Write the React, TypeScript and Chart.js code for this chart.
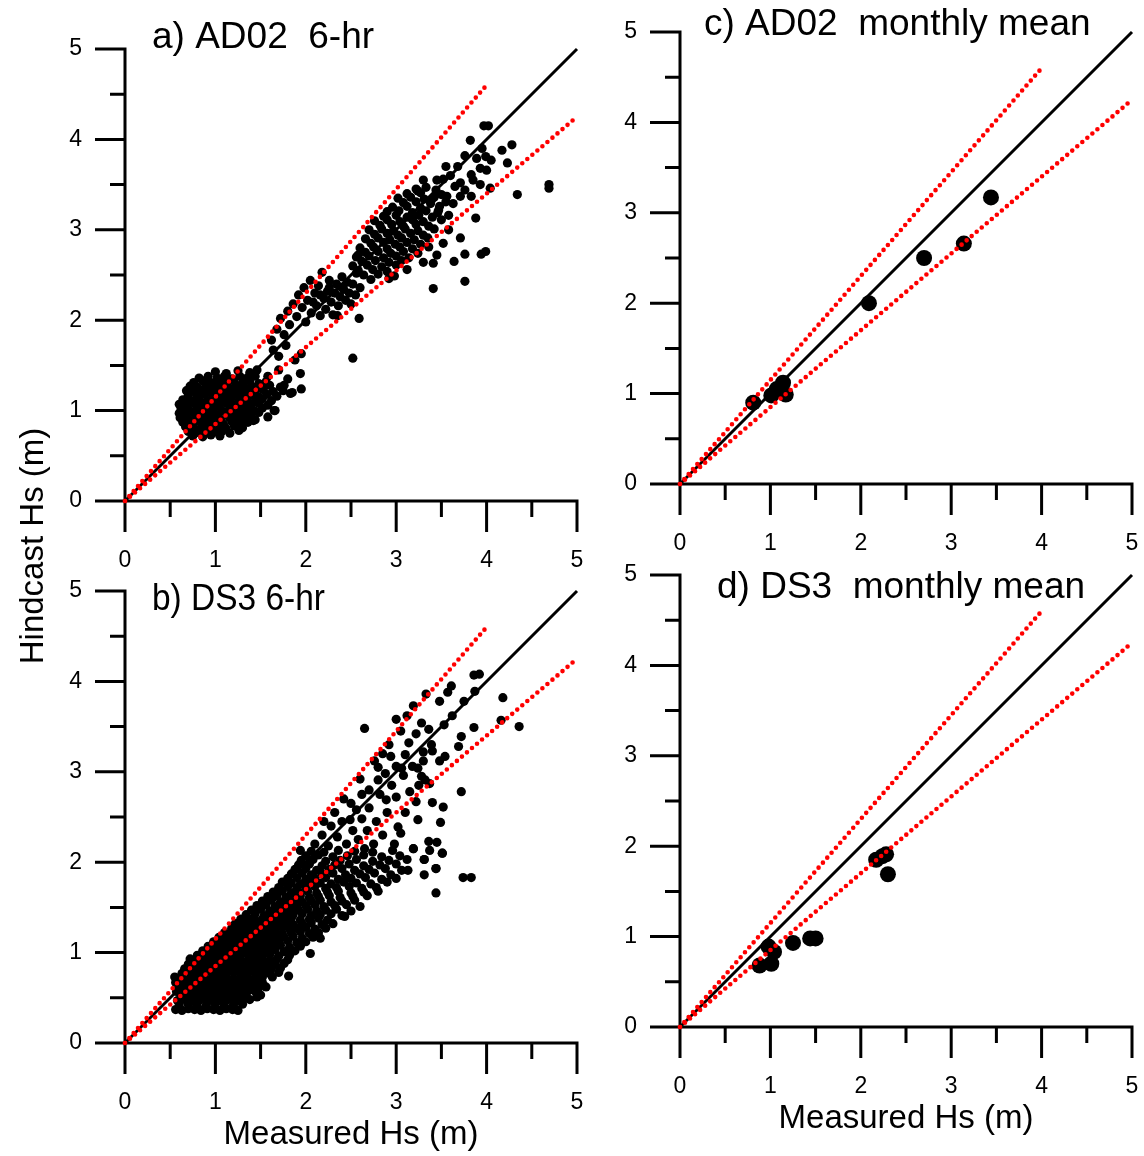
import React, { useEffect, useRef } from "react";
import { Chart, registerables } from "chart.js";

Chart.register(...registerables);

// ---------- axis definitions ----------
const axisMax = 5;
const majorTicks = [0, 1, 2, 3, 4, 5];
const minorTicks = [0.5, 1.5, 2.5, 3.5, 4.5];

// reference lines (x, y) end points
const oneToOneLine: [number, number][] = [[0, 0], [5, 5]];
const upperBandLine: [number, number][] = [[0, 0], [4, 4.6]];
const lowerBandLine: [number, number][] = [[0, 0], [5, 4.25]];

// ---------- a) AD02 6-hr (measured, hindcast) ----------
const ad02SixHr: [number, number][] = [
  [1.0, 1.43], [1.12, 1.41], [1.25, 1.44], [1.38, 1.42], [1.46, 1.45],
  [0.82, 1.36], [0.92, 1.38], [1.02, 1.36], [1.1, 1.38], [1.18, 1.35], [1.27, 1.38], [1.35, 1.36], [1.44, 1.38],
  [0.76, 1.31], [0.86, 1.33], [0.95, 1.31], [1.04, 1.32], [1.12, 1.3], [1.2, 1.33], [1.3, 1.31], [1.38, 1.33], [1.48, 1.3], [1.56, 1.32],
  [0.72, 1.27], [0.8, 1.26], [0.9, 1.28], [0.98, 1.26], [1.06, 1.27], [1.15, 1.25], [1.23, 1.28], [1.32, 1.26], [1.4, 1.27], [1.5, 1.25], [1.6, 1.28], [1.72, 1.26],
  [0.68, 1.22], [0.76, 1.21], [0.85, 1.23], [0.93, 1.21], [1.02, 1.22], [1.1, 1.2], [1.18, 1.23], [1.27, 1.21], [1.35, 1.22], [1.44, 1.2], [1.53, 1.23], [1.64, 1.21], [1.75, 1.22],
  [0.7, 1.17], [0.8, 1.16], [0.88, 1.18], [0.97, 1.16], [1.06, 1.17], [1.14, 1.15], [1.22, 1.18], [1.31, 1.16], [1.4, 1.17], [1.48, 1.15], [1.57, 1.18], [1.68, 1.16], [1.83, 1.19],
  [0.64, 1.12], [0.73, 1.11], [0.82, 1.13], [0.91, 1.11], [1.0, 1.12], [1.08, 1.1], [1.17, 1.13], [1.26, 1.11], [1.35, 1.12], [1.44, 1.1], [1.52, 1.13], [1.62, 1.11],
  [0.6, 1.07], [0.68, 1.06], [0.77, 1.08], [0.86, 1.06], [0.95, 1.07], [1.04, 1.05], [1.12, 1.08], [1.21, 1.06], [1.3, 1.07], [1.39, 1.05], [1.48, 1.08], [1.58, 1.06],
  [0.62, 1.02], [0.71, 1.01], [0.8, 1.03], [0.89, 1.01], [0.98, 1.02], [1.07, 1.0], [1.16, 1.03], [1.25, 1.01], [1.34, 1.02], [1.43, 1.0], [1.52, 1.03], [1.66, 1.0],
  [0.6, 0.97], [0.67, 0.96], [0.76, 0.98], [0.85, 0.96], [0.94, 0.97], [1.03, 0.95], [1.12, 0.98], [1.21, 0.96], [1.3, 0.97], [1.39, 0.95], [1.48, 0.98],
  [0.61, 0.92], [0.7, 0.91], [0.79, 0.93], [0.88, 0.91], [0.97, 0.92], [1.06, 0.9], [1.15, 0.93], [1.24, 0.91], [1.33, 0.92], [1.44, 0.9], [1.58, 0.93],
  [0.64, 0.87], [0.73, 0.86], [0.82, 0.88], [0.91, 0.86], [1.0, 0.87], [1.09, 0.85], [1.18, 0.88], [1.27, 0.86], [1.36, 0.87], [1.42, 0.89],
  [0.67, 0.82], [0.76, 0.81], [0.85, 0.83], [0.94, 0.81], [1.03, 0.82], [1.12, 0.8], [1.21, 0.83], [1.3, 0.81],
  [0.7, 0.77], [0.8, 0.76], [0.89, 0.78], [0.98, 0.76], [1.07, 0.77], [1.16, 0.75], [1.26, 0.78],
  [0.75, 0.72], [0.86, 0.71], [0.95, 0.73], [1.05, 0.72],
  [1.65, 1.0], [1.85, 1.2], [1.95, 1.24], [1.94, 1.41], [1.88, 1.56], [1.95, 1.63], [1.64, 1.67], [1.7, 1.45], [1.58, 1.38], [1.8, 1.35], [1.76, 1.28],
  [1.62, 1.78], [1.68, 1.9], [1.72, 2.02], [1.76, 1.84], [1.8, 2.1], [1.82, 1.95], [1.86, 2.18], [1.9, 2.04], [1.92, 2.28], [1.96, 2.14],
  [1.98, 2.36], [2.0, 1.98], [2.02, 2.22], [2.05, 2.44], [2.06, 2.08], [2.1, 2.3], [2.12, 2.16], [2.14, 2.38], [2.16, 2.05], [2.18, 2.53],
  [2.2, 2.24], [2.22, 2.12], [2.24, 2.32], [2.26, 2.44], [2.28, 2.2], [2.3, 2.06], [2.32, 2.3], [2.34, 2.4], [2.36, 2.16], [2.38, 2.26],
  [2.4, 2.48], [2.42, 2.34], [2.44, 2.22], [2.46, 2.42], [2.48, 2.3], [2.5, 2.18], [2.52, 1.58], [2.52, 2.4], [2.55, 2.28], [2.56, 2.52],
  [2.59, 2.02], [2.6, 2.36], [2.58, 2.72], [2.35, 2.05], [1.7, 1.6], [1.78, 1.72], [2.08, 2.2], [2.16, 2.28], [2.26, 2.36], [2.4, 2.36],
  [3.22, 3.45], [3.33, 3.47], [3.44, 3.44],
  [3.12, 3.4], [3.27, 3.41], [3.5, 3.39],
  [3.02, 3.35], [3.16, 3.36], [3.31, 3.34], [3.42, 3.36],
  [3.08, 3.3], [3.22, 3.31], [3.38, 3.29], [3.55, 3.31],
  [2.96, 3.25], [3.12, 3.26], [3.27, 3.24], [3.48, 3.26],
  [2.9, 3.2], [3.03, 3.21], [3.18, 3.19], [3.33, 3.21], [3.46, 3.19],
  [2.86, 3.15], [3.0, 3.16], [3.12, 3.14], [3.25, 3.16], [3.4, 3.14],
  [2.76, 3.1], [2.9, 3.11], [3.04, 3.09], [3.18, 3.11], [3.3, 3.09], [3.5, 3.11],
  [2.82, 3.05], [2.95, 3.06], [3.08, 3.04], [3.22, 3.06], [3.36, 3.04],
  [2.7, 3.0], [2.84, 3.01], [2.97, 2.99], [3.1, 3.01], [3.24, 2.99], [3.42, 3.01],
  [2.76, 2.95], [2.9, 2.96], [3.02, 2.94], [3.16, 2.96], [3.3, 2.94],
  [2.66, 2.9], [2.8, 2.91], [2.93, 2.89], [3.06, 2.91], [3.2, 2.89], [3.35, 2.91],
  [2.72, 2.85], [2.86, 2.86], [2.99, 2.84], [3.12, 2.86], [3.27, 2.84],
  [2.6, 2.8], [2.75, 2.81], [2.9, 2.79], [3.04, 2.81], [3.18, 2.79], [3.36, 2.81],
  [2.66, 2.75], [2.8, 2.76], [2.94, 2.74], [3.08, 2.76], [3.24, 2.74],
  [2.56, 2.7], [2.7, 2.71], [2.86, 2.69], [3.0, 2.71], [3.14, 2.69],
  [2.62, 2.65], [2.77, 2.66], [2.92, 2.64], [3.06, 2.66], [3.3, 2.64],
  [2.52, 2.6], [2.68, 2.61], [2.84, 2.59], [3.0, 2.61],
  [2.58, 2.55], [2.74, 2.56], [2.9, 2.54], [3.12, 2.56],
  [2.64, 2.5], [2.8, 2.51], [2.98, 2.49],
  [2.72, 2.45], [2.92, 2.46],
  [3.45, 3.55], [3.52, 3.56], [3.39, 3.33], [3.47, 3.22], [3.56, 3.37], [3.58, 3.16], [3.63, 3.29], [3.71, 3.37], [3.76, 3.44], [3.83, 3.37],
  [3.85, 3.55], [3.83, 3.61], [3.93, 3.5], [4.04, 3.46], [3.93, 3.68], [4.0, 3.66], [3.89, 3.79], [3.76, 3.82], [3.82, 3.99], [3.99, 3.81],
  [4.05, 3.77], [4.17, 3.88], [4.23, 3.74], [4.28, 3.94], [3.97, 4.15], [4.02, 4.15], [3.71, 3.52], [3.24, 3.43], [3.6, 3.6], [3.68, 3.7],
  [3.95, 3.9], [3.65, 3.48], [3.88, 3.13], [3.71, 2.91], [3.76, 2.73], [3.64, 2.65], [3.99, 2.76], [3.94, 2.73], [3.76, 2.43], [3.41, 2.35],
  [4.34, 3.39], [4.69, 3.5], [4.69, 3.46], [3.41, 2.63], [3.45, 2.72], [3.52, 2.85], [3.58, 3.0], [3.3, 3.55], [3.55, 3.7],
];

// ---------- b) DS3 6-hr (measured, hindcast) ----------
const ds3SixHr: [number, number][] = [
  [0.56, 0.37], [0.63, 0.36], [0.7, 0.38], [0.77, 0.37], [0.84, 0.36], [0.91, 0.38], [0.98, 0.37], [1.05, 0.36], [1.12, 0.38], [1.19, 0.37], [1.25, 0.36],
  [0.6, 0.42], [0.7, 0.43], [0.8, 0.41], [0.9, 0.42], [1.0, 0.43], [1.1, 0.41], [1.2, 0.42], [1.3, 0.43],
  [0.58, 0.47], [0.66, 0.48], [0.74, 0.46], [0.82, 0.47], [0.9, 0.48], [0.98, 0.46], [1.06, 0.47], [1.14, 0.48], [1.22, 0.46], [1.3, 0.47], [1.38, 0.48], [1.46, 0.51],
  [0.62, 0.52], [0.7, 0.53], [0.78, 0.51], [0.86, 0.52], [0.94, 0.53], [1.02, 0.51], [1.1, 0.52], [1.18, 0.53], [1.26, 0.51], [1.34, 0.52], [1.5, 0.53],
  [0.57, 0.57], [0.65, 0.58], [0.73, 0.56], [0.81, 0.57], [0.89, 0.58], [0.97, 0.56], [1.05, 0.57], [1.13, 0.58], [1.21, 0.56], [1.29, 0.57], [1.37, 0.58], [1.45, 0.56],
  [0.6, 0.62], [0.68, 0.63], [0.76, 0.61], [0.84, 0.62], [0.92, 0.63], [1.0, 0.61], [1.08, 0.62], [1.16, 0.63], [1.24, 0.61], [1.32, 0.62], [1.4, 0.63], [1.48, 0.61], [1.56, 0.62],
  [0.56, 0.67], [0.64, 0.68], [0.72, 0.66], [0.8, 0.67], [0.88, 0.68], [0.96, 0.66], [1.04, 0.67], [1.12, 0.68], [1.2, 0.66], [1.28, 0.67], [1.36, 0.68], [1.44, 0.66], [1.52, 0.67],
  [0.55, 0.73], [0.64, 0.72], [0.72, 0.71], [0.8, 0.73], [0.88, 0.72], [0.96, 0.71], [1.04, 0.73], [1.12, 0.72], [1.2, 0.71], [1.28, 0.73], [1.36, 0.72], [1.44, 0.71], [1.52, 0.73], [1.63, 0.73], [1.81, 0.74],
  [0.63, 0.77], [0.72, 0.78], [0.8, 0.76], [0.88, 0.77], [0.96, 0.78], [1.04, 0.76], [1.12, 0.77], [1.2, 0.78], [1.28, 0.76], [1.36, 0.77], [1.44, 0.78], [1.52, 0.76], [1.6, 0.77], [1.7, 0.78],
  [0.66, 0.82], [0.74, 0.83], [0.82, 0.81], [0.9, 0.82], [0.98, 0.83], [1.06, 0.81], [1.14, 0.82], [1.22, 0.83], [1.3, 0.81], [1.38, 0.82], [1.46, 0.83], [1.54, 0.81], [1.62, 0.82], [1.72, 0.83],
  [0.7, 0.87], [0.78, 0.88], [0.86, 0.86], [0.94, 0.87], [1.02, 0.88], [1.1, 0.86], [1.18, 0.87], [1.26, 0.88], [1.34, 0.86], [1.42, 0.87], [1.5, 0.88], [1.58, 0.86], [1.66, 0.87], [1.76, 0.88],
  [0.72, 0.93], [0.8, 0.92], [0.88, 0.91], [0.96, 0.93], [1.04, 0.92], [1.12, 0.91], [1.2, 0.93], [1.28, 0.92], [1.36, 0.91], [1.44, 0.93], [1.52, 0.92], [1.6, 0.91], [1.68, 0.93], [1.8, 0.92],
  [0.8, 0.97], [0.88, 0.98], [0.96, 0.96], [1.04, 0.97], [1.12, 0.98], [1.2, 0.96], [1.28, 0.97], [1.36, 0.98], [1.44, 0.96], [1.52, 0.97], [1.6, 0.98], [1.7, 0.96], [1.82, 0.97], [2.05, 0.99],
  [0.86, 1.02], [0.94, 1.03], [1.02, 1.01], [1.1, 1.02], [1.18, 1.03], [1.26, 1.01], [1.34, 1.02], [1.42, 1.03], [1.5, 1.01], [1.58, 1.02], [1.66, 1.03], [1.76, 1.01], [1.88, 1.02],
  [0.92, 1.07], [1.0, 1.08], [1.08, 1.06], [1.16, 1.07], [1.24, 1.08], [1.32, 1.06], [1.4, 1.07], [1.48, 1.08], [1.56, 1.06], [1.64, 1.07], [1.72, 1.08], [1.82, 1.06], [1.94, 1.07],
  [0.98, 1.12], [1.06, 1.13], [1.14, 1.11], [1.22, 1.12], [1.3, 1.13], [1.38, 1.11], [1.46, 1.12], [1.54, 1.13], [1.62, 1.11], [1.7, 1.12], [1.8, 1.13], [1.9, 1.11], [2.0, 1.12], [2.16, 1.16],
  [1.04, 1.17], [1.12, 1.18], [1.2, 1.16], [1.28, 1.17], [1.36, 1.18], [1.44, 1.16], [1.52, 1.17], [1.6, 1.18], [1.68, 1.16], [1.76, 1.17], [1.86, 1.18], [1.96, 1.16], [2.08, 1.17],
  [1.1, 1.22], [1.18, 1.23], [1.26, 1.21], [1.34, 1.22], [1.42, 1.23], [1.5, 1.21], [1.58, 1.22], [1.66, 1.23], [1.74, 1.21], [1.84, 1.22], [1.94, 1.23], [2.04, 1.21], [2.14, 1.22],
  [1.18, 1.27], [1.26, 1.28], [1.34, 1.26], [1.42, 1.27], [1.5, 1.28], [1.58, 1.26], [1.66, 1.27], [1.74, 1.28], [1.82, 1.26], [1.9, 1.27], [2.0, 1.28], [2.1, 1.26], [2.22, 1.27],
  [1.22, 1.32], [1.3, 1.33], [1.38, 1.31], [1.46, 1.32], [1.54, 1.33], [1.62, 1.31], [1.7, 1.32], [1.78, 1.33], [1.86, 1.31], [1.96, 1.32], [2.06, 1.33], [2.18, 1.31], [2.3, 1.32],
  [1.28, 1.37], [1.36, 1.38], [1.44, 1.36], [1.52, 1.37], [1.6, 1.38], [1.68, 1.36], [1.76, 1.37], [1.84, 1.38], [1.94, 1.36], [2.04, 1.37], [2.14, 1.38], [2.24, 1.36], [2.43, 1.4],
  [1.34, 1.42], [1.44, 1.43], [1.54, 1.41], [1.62, 1.42], [1.7, 1.43], [1.78, 1.41], [1.86, 1.42], [1.96, 1.43], [2.06, 1.41], [2.16, 1.42], [2.28, 1.43], [2.4, 1.41],
  [1.4, 1.47], [1.5, 1.48], [1.6, 1.46], [1.68, 1.47], [1.76, 1.48], [1.84, 1.46], [1.92, 1.47], [2.02, 1.48], [2.12, 1.46], [2.22, 1.47], [2.34, 1.48], [2.5, 1.46],
  [1.46, 1.52], [1.56, 1.53], [1.66, 1.51], [1.74, 1.52], [1.82, 1.53], [1.9, 1.51], [2.0, 1.52], [2.1, 1.53], [2.2, 1.51], [2.32, 1.52], [2.45, 1.53], [2.6, 1.51],
  [1.52, 1.57], [1.62, 1.58], [1.72, 1.56], [1.8, 1.57], [1.88, 1.58], [1.96, 1.56], [2.06, 1.57], [2.16, 1.58], [2.28, 1.56], [2.4, 1.57], [2.54, 1.58],
  [1.58, 1.62], [1.68, 1.63], [1.78, 1.61], [1.86, 1.62], [1.94, 1.63], [2.04, 1.61], [2.14, 1.62], [2.26, 1.63], [2.38, 1.61], [2.52, 1.62], [2.68, 1.63],
  [1.64, 1.67], [1.74, 1.68], [1.84, 1.66], [1.92, 1.67], [2.02, 1.68], [2.12, 1.66], [2.24, 1.67], [2.36, 1.68], [2.5, 1.66], [2.64, 1.67], [2.8, 1.68],
  [1.7, 1.72], [1.8, 1.73], [1.9, 1.71], [2.0, 1.72], [2.1, 1.73], [2.22, 1.71], [2.34, 1.72], [2.48, 1.73], [2.62, 1.71], [2.78, 1.72],
  [1.74, 1.78], [1.84, 1.77], [1.94, 1.76], [2.04, 1.78], [2.16, 1.77], [2.28, 1.76], [2.42, 1.78], [2.56, 1.77], [2.72, 1.76], [2.9, 1.78],
  [1.8, 1.82], [1.9, 1.83], [2.0, 1.81], [2.1, 1.82], [2.22, 1.83], [2.36, 1.81], [2.5, 1.82], [2.66, 1.83], [2.84, 1.81], [3.0, 1.82],
  [1.84, 1.87], [1.96, 1.88], [2.06, 1.86], [2.18, 1.87], [2.3, 1.88], [2.44, 1.86], [2.6, 1.87], [2.76, 1.88], [2.94, 1.86],
  [1.88, 1.92], [2.0, 1.93], [2.12, 1.91], [2.26, 1.92], [2.4, 1.93], [2.54, 1.91], [2.7, 1.92], [2.88, 1.93], [3.06, 1.91], [3.44, 1.93],
  [1.92, 1.97], [2.04, 1.98], [2.18, 1.96], [2.32, 1.97], [2.48, 1.98], [2.64, 1.96], [2.82, 1.97], [3.0, 1.98],
  [1.95, 2.02], [2.08, 2.03], [2.22, 2.01], [2.38, 2.02], [2.56, 2.03], [2.74, 2.01], [2.92, 2.02], [3.12, 2.03], [3.31, 2.03],
  [2.0, 2.07], [2.14, 2.08], [2.3, 2.06], [2.46, 2.07], [2.64, 2.08], [2.84, 2.06], [3.04, 2.07],
  [1.94, 2.13], [2.06, 2.12], [2.2, 2.11], [2.36, 2.13], [2.54, 2.12], [2.74, 2.11], [2.96, 2.13], [3.19, 2.15], [3.51, 2.1],
  [2.1, 2.2], [2.18, 2.3], [2.25, 2.18], [2.28, 2.4], [2.35, 2.28], [2.4, 2.45], [2.45, 2.2], [2.52, 2.35], [2.58, 2.25], [2.62, 2.48],
  [2.68, 2.35], [2.7, 2.6], [2.75, 2.2], [2.78, 2.45], [2.82, 2.75], [2.85, 2.3], [2.9, 2.55], [2.95, 2.85], [2.98, 2.2], [2.7, 2.8],
  [2.5, 2.65], [2.42, 2.7], [2.2, 2.45], [2.88, 2.98], [2.76, 3.12], [2.92, 3.3], [3.05, 3.45], [3.14, 3.32], [3.22, 3.42], [2.85, 3.2],
  [3.0, 3.58], [3.12, 3.62], [3.53, 3.52], [3.62, 3.62], [3.3, 3.12], [3.15, 2.78], [3.25, 2.85], [3.1, 2.55], [2.65, 2.15], [3.37, 2.13],
  [3.31, 1.86], [3.74, 1.83],
  [2.65, 3.48], [3.19, 3.73], [3.33, 3.86], [3.48, 3.78], [3.57, 3.88], [3.61, 3.95], [3.75, 3.78], [3.86, 4.07], [3.92, 4.08], [3.87, 3.89],
  [4.18, 3.82], [4.16, 3.57], [4.36, 3.5], [3.86, 3.49], [3.72, 3.39], [3.69, 3.28], [3.28, 3.54], [3.36, 3.47], [3.39, 3.3], [3.4, 3.23],
  [3.3, 3.22], [3.54, 3.17], [3.48, 3.12], [3.1, 3.19], [3.18, 3.06], [2.94, 3.17], [2.8, 3.05], [3.0, 3.06], [3.06, 3.04], [3.24, 3.04],
  [3.28, 2.95], [3.32, 2.91], [3.37, 2.87], [3.08, 2.96], [2.8, 2.91], [2.6, 2.92], [3.72, 2.78], [3.4, 2.66], [3.52, 2.61], [3.49, 2.44],
  [3.24, 2.47], [3.22, 2.67], [3.0, 2.72], [2.89, 2.69], [2.62, 2.75], [2.32, 2.55], [2.49, 2.47], [2.56, 2.58], [3.02, 2.39], [3.05, 2.32],
  [3.36, 2.23], [3.45, 2.22], [3.51, 2.1], [3.44, 1.93], [3.19, 2.15], [3.31, 2.03], [3.13, 1.91], [3.83, 1.83], [3.44, 1.66],
];

// ---------- c) AD02 monthly mean ----------
const ad02Monthly: [number, number][] = [
  [0.81, 0.9], [1.01, 0.98], [1.07, 1.05], [1.14, 1.12], [1.17, 0.99],
  [2.09, 2.0], [2.7, 2.5], [3.14, 2.66], [3.44, 3.17],
];

// ---------- d) DS3 monthly mean ----------
const ds3Monthly: [number, number][] = [
  [0.88, 0.68], [1.01, 0.7], [0.98, 0.89], [1.04, 0.83], [1.25, 0.93],
  [1.44, 0.98], [1.5, 0.98], [2.17, 1.85], [2.24, 1.89], [2.28, 1.91], [2.3, 1.69],
];

// ---------- layout ----------
const W = 1144;
const H = 1156;
const FONT = '"Liberation Sans", Arial, Helvetica, sans-serif';

type Panel = {
  title: string;
  data: [number, number][];
  radius: number;
  area: { left: number; top: number; right: number; bottom: number };
  titleX: number;
  titleBase: number;
  titleMaxWidth?: number;
  xTitle?: { text: string; base: number };
  yTitle?: { text: string; x: number; cy: number };
};

const panels: Panel[] = [
  {
    title: "a) AD02  6-hr",
    data: ad02SixHr,
    radius: 4.6,
    area: { left: 125, top: 49, right: 577, bottom: 501 },
    titleX: 152,
    titleBase: 48,
  },
  {
    title: "b) DS3 6-hr",
    data: ds3SixHr,
    radius: 4.6,
    area: { left: 125, top: 591, right: 577, bottom: 1043 },
    titleX: 152,
    titleBase: 610,
    titleMaxWidth: 173,
    xTitle: { text: "Measured Hs (m)", base: 1144 },
    yTitle: { text: "Hindcast Hs (m)", x: 43, cy: 546 },
  },
  {
    title: "c) AD02  monthly mean",
    data: ad02Monthly,
    radius: 8,
    area: { left: 680, top: 32, right: 1132, bottom: 484 },
    titleX: 704,
    titleBase: 35,
  },
  {
    title: "d) DS3  monthly mean",
    data: ds3Monthly,
    radius: 8,
    area: { left: 680, top: 575, right: 1132, bottom: 1027 },
    titleX: 717,
    titleBase: 598,
    xTitle: { text: "Measured Hs (m)", base: 1128 },
  },
];

const toXY = (pairs: [number, number][]) => pairs.map(([x, y]) => ({ x, y }));

const panelAxesPlugin = {
  id: "panelAxes",
  beforeDatasetsDraw(chart: any, _args: any, opts: any) {
    const ctx: CanvasRenderingContext2D = chart.ctx;
    const xs = chart.scales.x;
    const ys = chart.scales.y;
    const X = (v: number) => xs.getPixelForValue(v);
    const Y = (v: number) => ys.getPixelForValue(v);
    const x0 = X(0);
    const y0 = Y(0);
    const xEnd = X(axisMax);
    const yEnd = Y(axisMax);
    const lw = 3;
    const majorLen = 30;
    const minorLen = 15;

    ctx.save();
    ctx.strokeStyle = "#000";
    ctx.lineWidth = lw;
    ctx.lineCap = "butt";
    ctx.beginPath();
    ctx.moveTo(x0, yEnd - lw / 2);
    ctx.lineTo(x0, y0);
    ctx.moveTo(x0, y0);
    ctx.lineTo(xEnd + lw / 2, y0);
    for (const v of majorTicks) {
      ctx.moveTo(x0 - majorLen, Y(v));
      ctx.lineTo(x0, Y(v));
      ctx.moveTo(X(v), y0);
      ctx.lineTo(X(v), y0 + majorLen + 1);
    }
    for (const v of minorTicks) {
      ctx.moveTo(x0 - minorLen, Y(v));
      ctx.lineTo(x0, Y(v));
      ctx.moveTo(X(v), y0);
      ctx.lineTo(X(v), y0 + minorLen + 1);
    }
    ctx.stroke();

    ctx.fillStyle = "#000";
    ctx.font = `23px ${FONT}`;
    ctx.textAlign = "right";
    ctx.textBaseline = "middle";
    for (const v of majorTicks) ctx.fillText(String(v), x0 - 43, Y(v));
    ctx.textAlign = "center";
    for (const v of majorTicks) ctx.fillText(String(v), X(v), y0 + 60);

    ctx.font = `37px ${FONT}`;
    ctx.textAlign = "left";
    ctx.textBaseline = "alphabetic";
    if (opts.titleMaxWidth) ctx.fillText(opts.title, opts.titleX, opts.titleBase, opts.titleMaxWidth);
    else ctx.fillText(opts.title, opts.titleX, opts.titleBase);

    ctx.font = `33px ${FONT}`;
    if (opts.xTitle) {
      ctx.textAlign = "center";
      ctx.fillText(opts.xTitle.text, (x0 + xEnd) / 2, opts.xTitle.base);
    }
    if (opts.yTitle) {
      ctx.translate(opts.yTitle.x, opts.yTitle.cy);
      ctx.rotate(-Math.PI / 2);
      ctx.textAlign = "center";
      ctx.fillText(opts.yTitle.text, 0, 0);
    }
    ctx.restore();
  },
};

function PanelChart({ panel }: { panel: Panel }) {
  const ref = useRef<HTMLCanvasElement | null>(null);
  useEffect(() => {
    if (!ref.current) return;
    const a = panel.area;
    const bandStyle = {
      type: "line",
      borderColor: "#ff0000",
      borderWidth: 4.6,
      borderDash: [0, 6.6],
      borderCapStyle: "round",
      pointRadius: 0,
      fill: false,
      tension: 0,
      clip: false,
    };
    const chart = new Chart(ref.current, {
      type: "scatter",
      data: {
        datasets: [
          { ...bandStyle, data: toXY(upperBandLine) } as any,
          { ...bandStyle, data: toXY(lowerBandLine) } as any,
          {
            type: "line",
            data: toXY(oneToOneLine),
            borderColor: "#000000",
            borderWidth: 3,
            pointRadius: 0,
            fill: false,
            tension: 0,
            clip: false,
          } as any,
          {
            data: toXY(panel.data),
            pointRadius: panel.radius,
            pointBackgroundColor: "#000000",
            backgroundColor: "#000000",
            pointBorderWidth: 0,
            borderWidth: 0,
            showLine: false,
            clip: false,
          } as any,
        ],
      },
      options: {
        responsive: false,
        animation: false,
        events: [],
        layout: {
          padding: { left: a.left, top: a.top, right: W - a.right, bottom: H - a.bottom },
        },
        scales: {
          x: { type: "linear", min: 0, max: axisMax, display: false },
          y: { type: "linear", min: 0, max: axisMax, display: false },
        },
        plugins: {
          legend: { display: false },
          tooltip: { enabled: false },
          panelAxes: {
            title: panel.title,
            titleX: panel.titleX,
            titleBase: panel.titleBase,
            titleMaxWidth: panel.titleMaxWidth,
            xTitle: panel.xTitle,
            yTitle: panel.yTitle,
          },
        } as any,
      },
      plugins: [panelAxesPlugin],
    });
    return () => chart.destroy();
  }, [panel]);
  return (
    <canvas
      ref={ref}
      width={W}
      height={H}
      style={{ position: "absolute", left: 0, top: 0, width: W, height: H }}
    />
  );
}

export default function App() {
  return (
    <div style={{ position: "absolute", left: 0, top: 0, width: W, height: H, background: "#fff" }}>
      {panels.map((p) => (
        <PanelChart key={p.title} panel={p} />
      ))}
    </div>
  );
}
